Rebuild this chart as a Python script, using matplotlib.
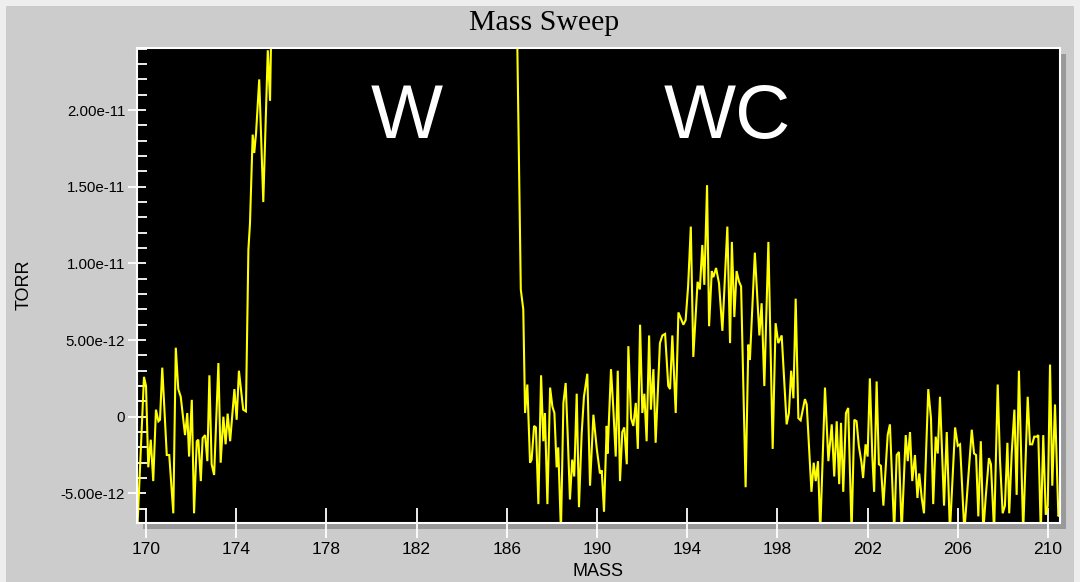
import matplotlib
matplotlib.use("Agg")
import matplotlib.pyplot as plt
from matplotlib.patches import Rectangle
from matplotlib.ticker import MultipleLocator, FuncFormatter

# Mass sweep around the tungsten / tungsten-carbide region.
# Pressure readings are in units of 1e-12 Torr.
mass_low = [
    169.61, 169.91, 170.00, 170.10, 170.21, 170.32, 170.44, 170.55, 170.62, 170.72,
    170.92, 171.03, 171.21, 171.32, 171.43, 171.54, 171.73, 171.83, 171.91, 172.03,
    172.13, 172.25, 172.32, 172.43, 172.51, 172.62, 172.72, 172.81, 172.91, 173.02,
    173.21, 173.31, 173.43, 173.53, 173.62, 173.73, 173.92, 174.02, 174.12, 174.21,
    174.31, 174.43, 174.54, 174.61, 174.73, 174.80, 174.88, 175.02, 175.20, 175.40,
    175.50,
]
torr_low = [
    -7.5, 2.6, 2.0, -3.3, -1.5, -4.2, 0.46, -0.3, -0.2, 3.2,
    -2.5, -2.5, -6.3, 4.5, 1.8, 1.3, -1.2, 0.24, -2.6, 1.1,
    -6.3, -1.6, -1.5, -4.2, -1.4, -1.2, -2.9, 2.7, -3.1, -3.8,
    3.5, -3.0, 0.0, -1.8, 0.2, -1.6, 1.8, -0.2, 3.0, 1.8,
    0.46, 0.35, 10.9, 12.6, 18.4, 17.2, 18.5, 22.0, 14.0, 23.9,
    20.6,
]

# Tungsten isotope cluster (far above the displayed range)
mass_w = [175.63, 176.0, 177.0, 178.0, 179.0, 180.0, 181.0, 181.5, 182.0, 182.5,
          183.0, 183.5, 184.0, 184.5, 185.0, 185.5, 186.0, 186.35, 186.41]
torr_w = [32.0, 60.0, 45.0, 50.0, 70.0, 150.0, 120.0, 300.0, 2600.0, 400.0,
          1400.0, 500.0, 3000.0, 600.0, 300.0, 600.0, 2800.0, 60.0, 30.0]

mass_high = [
    186.62, 186.73, 186.81, 186.91, 187.03, 187.10, 187.21, 187.29, 187.40, 187.52,
    187.62, 187.69, 187.80, 187.92, 188.02, 188.11, 188.21, 188.28, 188.40, 188.51,
    188.61, 188.70, 188.80, 188.90, 188.99, 189.10, 189.20, 189.32, 189.42, 189.57,
    189.69, 189.84, 189.99, 190.13, 190.21, 190.31, 190.43, 190.47, 190.62, 190.72,
    190.83, 190.92, 191.02, 191.12, 191.21, 191.32, 191.39, 191.51, 191.61, 191.72,
    191.81, 191.91, 192.01, 192.10, 192.20, 192.31, 192.39, 192.50, 192.60, 192.79,
    192.90, 193.02, 193.16, 193.24, 193.34, 193.49, 193.61, 193.83, 193.93, 194.04,
    194.16, 194.27, 194.46, 194.56, 194.67, 194.76, 194.88, 194.97, 195.09, 195.16,
    195.28, 195.41, 195.56, 195.78, 195.90, 195.98, 196.09, 196.19, 196.30, 196.39,
    196.59, 196.71, 196.78, 197.00, 197.20, 197.30, 197.42, 197.60, 197.79, 197.92,
    198.04, 198.19, 198.41, 198.51, 198.61, 198.71, 198.81, 198.93, 199.03, 199.22,
    199.30, 199.51, 199.61, 199.70, 199.80, 199.90, 200.11, 200.26, 200.41, 200.52,
    200.63, 200.74, 200.82, 200.92, 201.04, 201.14, 201.29, 201.41, 201.51, 201.61,
    201.73, 201.80, 201.91, 202.00, 202.10, 202.21, 202.29, 202.40, 202.50, 202.59,
    202.70, 202.89, 202.99, 203.18, 203.29, 203.39, 203.51, 203.69, 203.78, 203.88,
    203.98, 204.10, 204.21, 204.29, 204.40, 204.50, 204.69, 204.81, 204.91, 205.02,
    205.11, 205.21, 205.39, 205.51, 205.65, 205.88, 206.00, 206.10, 206.29, 206.62,
    206.72, 206.81, 206.91, 207.02, 207.13, 207.24, 207.38, 207.47, 207.61, 207.77,
    207.87, 207.99, 208.09, 208.20, 208.28, 208.39, 208.51, 208.61, 208.71, 208.90,
    209.10, 209.20, 209.30, 209.39, 209.50, 209.57, 209.68, 209.79, 209.90, 209.99,
    210.09, 210.19, 210.31, 210.46, 210.51,
]
torr_high = [
    8.3, 7.0, 0.24, 2.1, -3.0, -2.8, -0.6, -0.7, -5.7, 2.7,
    -1.6, 0.24, -5.7, 1.9, 0.67, 0.24, -3.3, -2.0, -7.5, 0.9,
    2.2, -1.2, -5.4, -2.8, -3.9, 1.5, -5.9, -1.1, 1.3, 2.8,
    -4.5, 0.13, -2.1, -3.7, -3.5, -6.2, -0.6, -2.4, 3.1, 0.6,
    -2.6, 3.0, -4.2, -1.0, -0.7, -3.1, 4.6, -0.1, -0.6, 0.9,
    -2.1, 6.0, 0.24, 1.5, -1.6, 5.3, 0.46, 3.1, -1.7, 4.8,
    5.3, 5.4, 2.0, 1.8, 5.3, 0.24, 6.8, 6.0, 6.3, 8.5,
    12.4, 3.9, 8.8, 8.3, 11.2, 8.6, 15.1, 5.9, 9.5, 9.1,
    9.7, 8.7, 5.6, 12.4, 4.8, 11.4, 6.5, 9.5, 8.8, 8.5,
    -4.6, 4.7, 3.7, 10.7, 5.3, 7.4, 2.0, 11.4, -2.1, 6.1,
    4.8, 5.3, -0.5, 0.24, 3.0, 1.2, 7.7, -0.1, -0.24, 1.15,
    0.8, -4.9, -3.0, -4.2, -2.9, -7.5, 1.9, -2.9, -0.5, -3.9,
    -0.3, -4.4, -0.4, -4.9, 0.24, 0.57, -7.5, -0.2, -0.3, -1.9,
    -3.0, -4.0, -1.8, -2.6, 2.5, -2.6, -4.9, 2.3, -3.1, -3.2,
    -5.8, -1.2, -0.5, -7.5, -2.5, -2.3, -7.5, -1.2, -2.9, -1.0,
    -4.2, -2.5, -5.3, -3.7, -5.3, -6.3, 1.8, -0.1, -5.7, -1.3,
    -2.4, 1.3, -5.8, -1.0, -7.5, -0.7, -1.9, -1.8, -7.5, -0.85,
    -2.4, -2.5, -6.5, -1.6, -7.5, -5.2, -2.7, -3.1, -7.5, 2.1,
    -2.8, -6.3, -5.8, -1.7, -6.3, -2.4, 0.46, -5.1, 3.0, -7.5,
    1.3, -1.8, -1.8, -1.3, -1.3, -1.2, -7.5, -1.2, -6.4, -5.8,
    3.4, -4.5, 0.8, -6.5, -6.4,
]

x_ticks = [170, 174, 178, 182, 186, 190, 194, 198, 202, 206, 210]
peak_labels = [("W", 181.57), ("WC", 195.77)]

mass = mass_low + mass_w + mass_high
torr = [v * 1e-12 for v in torr_low + torr_w + torr_high]

W, H = 1080, 582
fig = plt.figure(figsize=(W / 100, H / 100), dpi=100, facecolor="#eeeeee")

# grey panel
fig.patches.append(Rectangle((6 / W, 0), (W - 12) / W, (H - 6) / H,
                             transform=fig.transFigure, facecolor="#cccccc",
                             edgecolor="none", zorder=0))

ax_l, ax_r, ax_t, ax_b = 137, 1059.5, 47.5, 522.5
# drop shadow behind the plotting area
fig.patches.append(Rectangle(((ax_l + 6) / W, (H - ax_b - 6) / H),
                             (ax_r - ax_l) / W, (ax_b - ax_t) / H,
                             transform=fig.transFigure, facecolor="#999999",
                             edgecolor="none", zorder=0.5))

ax = fig.add_axes([ax_l / W, (H - ax_b) / H, (ax_r - ax_l) / W, (ax_b - ax_t) / H])
ax.set_zorder(2)
ax.set_facecolor("black")
ax.plot(mass, torr, color="#ffff00", lw=1.5, solid_joinstyle="miter")

ax.set_xlim(169.6, 210.51)
ax.set_ylim(-6.9e-12, 24.08e-12)

for s in ax.spines.values():
    s.set_color("white")
    s.set_linewidth(1.5)

ax.set_xticks(x_ticks)
ax.yaxis.set_major_locator(MultipleLocator(5e-12))
ax.yaxis.set_minor_locator(MultipleLocator(1e-12))
ax.yaxis.set_major_formatter(FuncFormatter(lambda v, p: "0" if abs(v) < 1e-15 else f"{v:.2e}"))
ax.yaxis.get_offset_text().set_visible(False)

ax.tick_params(axis="x", which="major", direction="inout", length=22, width=1.3,
               color="white", labelsize=12.5, pad=3, labelcolor="black")
ax.tick_params(axis="y", which="major", direction="inout", length=13, width=1.3,
               color="white", labelsize=10.8, pad=2, labelcolor="black")
ax.tick_params(axis="y", which="minor", direction="in", length=7, width=1.3, color="white")
for lab in ax.get_xticklabels() + ax.get_yticklabels():
    lab.set_fontfamily("Liberation Sans")

ax.set_xlabel("MASS", fontsize=13, family="Liberation Sans", labelpad=4)
ax.set_ylabel("TORR", fontsize=13, family="Liberation Sans", labelpad=20)

fig.text(0.5 + 4 / W, 1 - 23 / H, "Mass Sweep", ha="center", va="center",
         fontsize=21.5, family="Liberation Serif")

for txt, xm in peak_labels:
    ax.text(xm, 18.2e-12, txt, color="white", fontsize=55, family="Liberation Sans",
            ha="center", va="baseline")

fig.savefig("out.png", dpi=100, facecolor=fig.get_facecolor())
